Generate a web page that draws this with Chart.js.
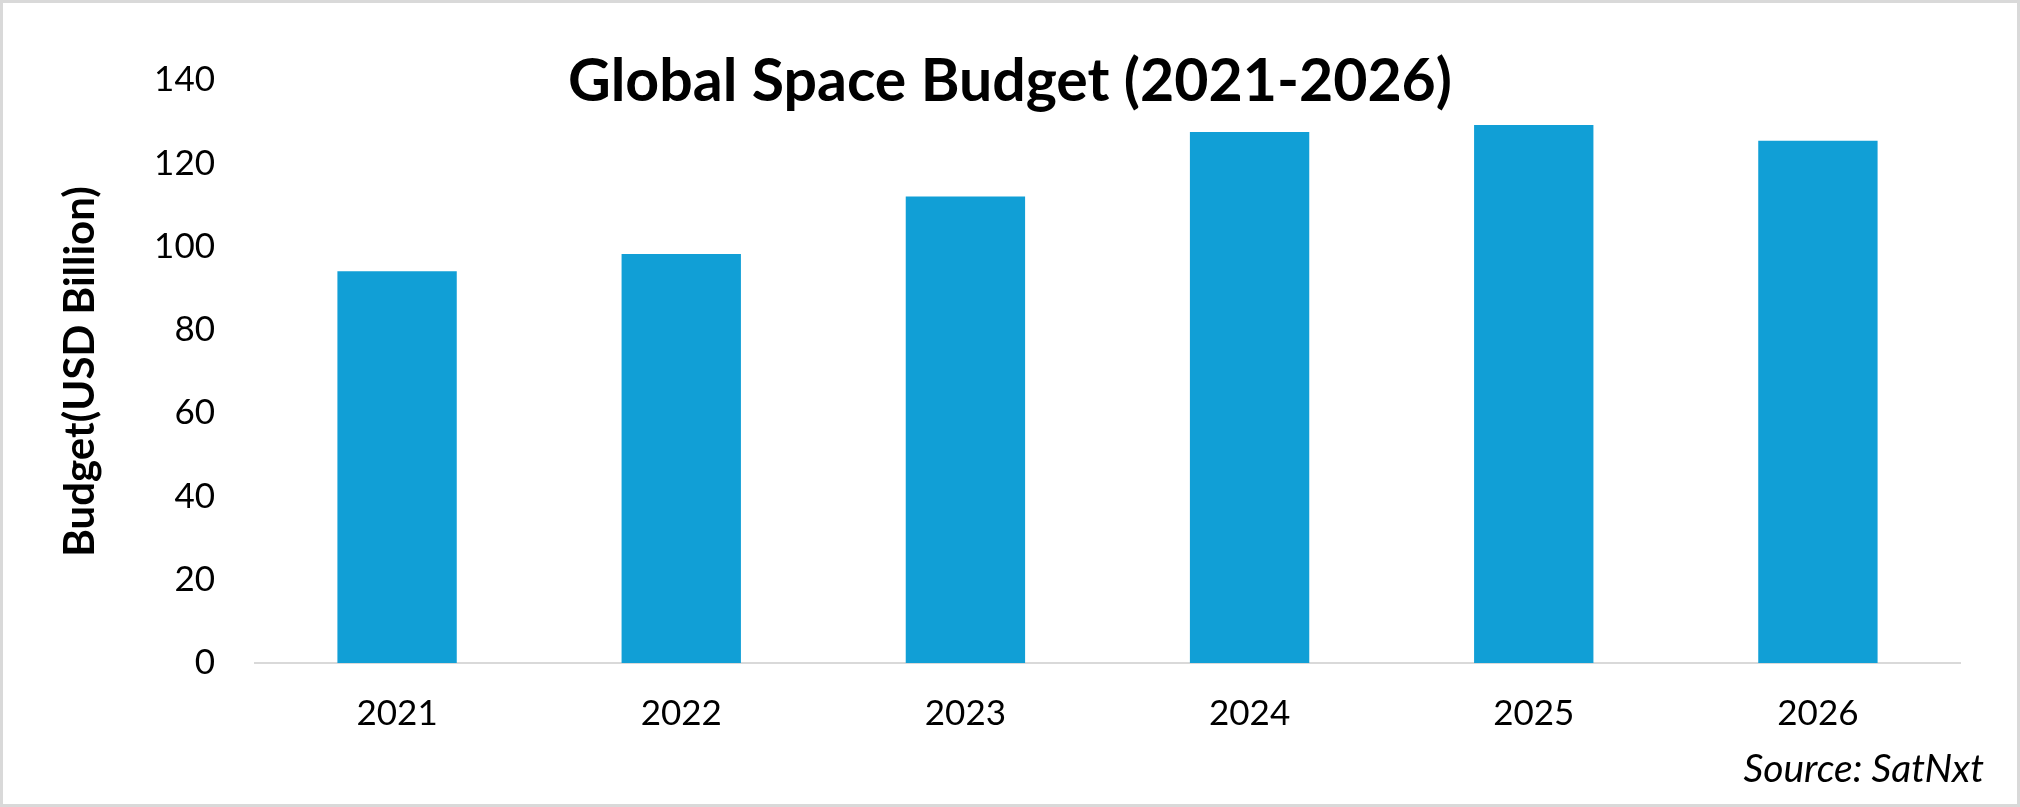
<!DOCTYPE html>
<html>
<head>
<meta charset="utf-8">
<script src="https://cdn.jsdelivr.net/npm/chart.js@4"></script>
<style>
  body { margin: 0; background: #fff; }
  .wrap { position: relative; width: 2020px; height: 807px; }
  .frame { position: absolute; inset: 0; border: 3px solid #d9d9d9; pointer-events: none; }
  canvas { position: absolute; left: 0; top: 0; }
</style>
</head>
<body>
<div class="wrap">
  <canvas id="myChart" width="2020" height="807"></canvas>
  <div class="frame"></div>
</div>
<script>
const years = ['2021', '2022', '2023', '2024', '2025', '2026']
const budget = [94.1, 98.2, 112, 127.5, 129.2, 125.4]
const yTicks = [0, 20, 40, 60, 80, 100, 120, 140]
const titleText = 'Global Space Budget (2021-2026)'
const axisTitle = 'Budget(USD Billion)'
const sourceText = 'Source: SatNxt'

const FONT = 'Lato'

// title and source sit on top of the plot, so draw them by hand
const overlayText = {
    id: 'overlayText',
    afterDraw(chart) {
        const ctx = chart.ctx
        ctx.save()
        ctx.fillStyle = '#000'
        ctx.textBaseline = 'middle'
        ctx.textAlign = 'center'
        ctx.font = `bold 59px ${FONT}`
        ctx.fillText(titleText, 1010, 82)
        ctx.textAlign = 'right'
        ctx.font = `italic 39px ${FONT}`
        ctx.fillText(sourceText, 1984, 769)
        ctx.restore()
    }
}

// setup block
const data = {
    labels: years,
    datasets: [{
        label: 'Budget',
        data: budget,
        backgroundColor: '#119fd6',
        barPercentage: 0.42,
        categoryPercentage: 1
    }]
}

// config block
const config = {
    type: 'bar',
    data,
    plugins: [overlayText],
    options: {
        responsive: false,
        animation: false,
        devicePixelRatio: 1,
        layout: {
            padding: { top: 80, right: 60, bottom: 0, left: 0 }
        },
        scales: {
            x: {
                grid: { display: false, drawTicks: false },
                border: { display: true, color: '#d9d9d9', width: 2 },
                ticks: {
                    color: '#000',
                    padding: 30,
                    font: { family: FONT, size: 35 }
                },
                afterFit(scale) { scale.height = 144 }
            },
            y: {
                min: 0,
                max: yTicks[yTicks.length - 1],
                afterBuildTicks(scale) {
                    scale.ticks = yTicks.map(v => ({ value: v }))
                },
                grid: { display: false, drawTicks: false },
                border: { display: false },
                ticks: {
                    color: '#000',
                    padding: 40,
                    font: { family: FONT, size: 35 }
                },
                title: {
                    display: true,
                    text: axisTitle,
                    color: '#000',
                    padding: { top: 55, bottom: 0 },
                    font: { family: FONT, size: 42, weight: 'bold' }
                },
                afterFit(scale) { scale.width = 255 }
            }
        },
        plugins: {
            legend: { display: false },
            tooltip: { enabled: false }
        }
    }
}

// render block
const myChart = new Chart(
    document.getElementById('myChart'),
    config
)
</script>
</body>
</html>
